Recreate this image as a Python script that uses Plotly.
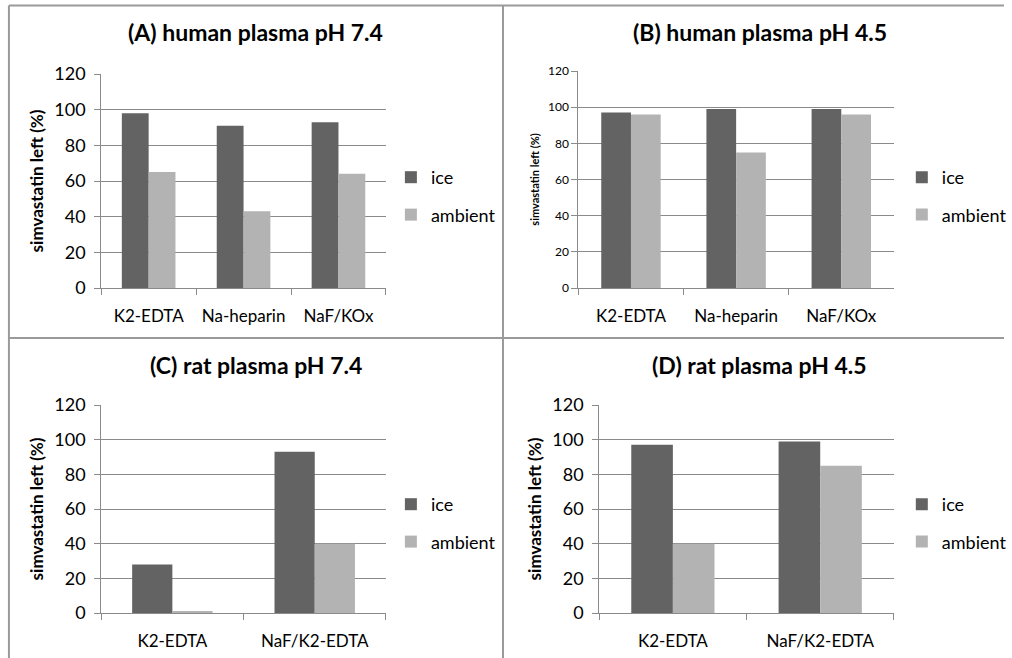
import plotly.graph_objects as go

# ---------------- data ----------------
human_categories = ["K2-EDTA", "Na-heparin", "NaF/KOx"]
rat_categories = ["K2-EDTA", "NaF/K2-EDTA"]

a_ice = [98, 91, 93]
a_ambient = [65, 43, 64]
b_ice = [97, 99, 99]
b_ambient = [96, 75, 96]
c_ice = [28, 93]
c_ambient = [1, 40]
d_ice = [97, 99]
d_ambient = [40, 85]

titles = ["(A) human plasma pH 7.4", "(B) human plasma pH 4.5",
          "(C) rat plasma pH 7.4", "(D) rat plasma pH 4.5"]
y_title = "simvastatin left (%)"
series_names = ["ice", "ambient"]
y_ticks = [0, 20, 40, 60, 80, 100, 120]

# ---------------- style ----------------
W, H = 1012, 658
ICE = "#636363"
AMB = "#b3b3b3"
GRID = "#8a8a8a"
FONT = "Lato, 'Open Sans', sans-serif"

def px_x(p):
    return p / W

def px_y(p):
    return 1 - p / H

panels = [
    dict(cats=human_categories, ice=a_ice, amb=a_ambient, x=(102, 389), y=(74, 288),
         tick=18, tstand=5, ytit=17, legx=394, legy=196, title_xy=(258, 32)),
    dict(cats=human_categories, ice=b_ice, amb=b_ambient, x=(583, 901), y=(71, 288),
         tick=12, tstand=0, ytit=11, legx=909, legy=196, title_xy=(766, 32)),
    dict(cats=rat_categories, ice=c_ice, amb=c_ambient, x=(102, 389), y=(405, 613),
         tick=18, tstand=5, ytit=17, legx=394, legy=523, title_xy=(258, 365)),
    dict(cats=rat_categories, ice=d_ice, amb=d_ambient, x=(604, 901), y=(405, 613),
         tick=18, tstand=5, ytit=17, legx=909, legy=523, title_xy=(766, 365)),
]

fig = go.Figure()
layout = dict(
    width=W, height=H, margin=dict(l=0, r=0, t=0, b=0),
    paper_bgcolor="white", plot_bgcolor="white",
    barmode="group", bargap=0.435, bargroupgap=0,
    font=dict(family=FONT, color="black"),
    showlegend=True,
)
annotations = []
shapes = []

for i, p in enumerate(panels):
    n = "" if i == 0 else str(i + 1)
    xa, ya = "x" + n, "y" + n
    leg = "legend" + n
    fig.add_trace(go.Bar(x=p["cats"], y=p["ice"], name=series_names[0],
                         marker=dict(color=ICE, line=dict(width=0)),
                         xaxis=xa, yaxis=ya, legend=leg, legendgroup="ice" + n,
                         showlegend=True))
    fig.add_trace(go.Bar(x=p["cats"], y=p["amb"], name=series_names[1],
                         marker=dict(color=AMB, line=dict(width=0)),
                         xaxis=xa, yaxis=ya, legend=leg, legendgroup="amb" + n,
                         showlegend=True))
    layout["xaxis" + n] = dict(
        domain=[px_x(p["x"][0]), px_x(p["x"][1])], anchor=ya,
        showline=True, linecolor=GRID, linewidth=1,
        ticks="outside", tickson="boundaries", ticklen=6, tickcolor=GRID,
        tickfont=dict(size=17, family=FONT), ticklabelstandoff=13,
        showgrid=False, automargin=False, fixedrange=True,
    )
    layout["yaxis" + n] = dict(
        domain=[px_y(p["y"][1]), px_y(p["y"][0])], anchor=xa,
        range=[0, 120], tickvals=y_ticks,
        showline=True, linecolor=GRID, linewidth=1,
        ticks="outside", ticklen=6, tickcolor=GRID,
        showgrid=True, gridcolor=GRID, gridwidth=1, zeroline=False,
        tickfont=dict(size=p["tick"], family=FONT), ticklabelstandoff=p["tstand"],
        title=dict(text="<b>" + y_title + "</b>", font=dict(size=p["ytit"], family=FONT),
                   standoff=6),
        automargin=False, fixedrange=True,
    )
    layout[leg] = dict(
        x=px_x(p["legx"]), y=px_y(p["legy"]), xanchor="left", yanchor="middle",
        font=dict(size=18, family=FONT), traceorder="grouped", tracegroupgap=11,
        bgcolor="rgba(0,0,0,0)", borderwidth=0,
    )
    annotations.append(dict(
        text="<b>" + titles[i] + "</b>", xref="paper", yref="paper",
        x=px_x(p["title_xy"][0]), y=px_y(p["title_xy"][1]),
        xanchor="center", yanchor="middle", showarrow=False,
        font=dict(size=23, family=FONT, color="black"),
    ))

# panel frame lines
BORDER = dict(color="#9a9a9a", width=2)
shapes.append(dict(type="line", xref="paper", yref="paper",
                   x0=px_x(9), x1=1, y0=px_y(5.5), y1=px_y(5.5), line=BORDER))
shapes.append(dict(type="line", xref="paper", yref="paper",
                   x0=px_x(9), x1=px_x(9), y0=px_y(5.5), y1=0, line=BORDER))
shapes.append(dict(type="line", xref="paper", yref="paper",
                   x0=px_x(9), x1=1, y0=px_y(338), y1=px_y(338), line=BORDER))
shapes.append(dict(type="line", xref="paper", yref="paper",
                   x0=px_x(507), x1=px_x(507), y0=px_y(5.5), y1=0, line=BORDER))

layout["annotations"] = annotations
layout["shapes"] = shapes
fig.update_layout(**layout)

fig.write_html(
    "out.html",
    config={"displayModeBar": False},
    post_script="document.body.style.margin='0px';document.body.style.overflow='hidden';",
)
